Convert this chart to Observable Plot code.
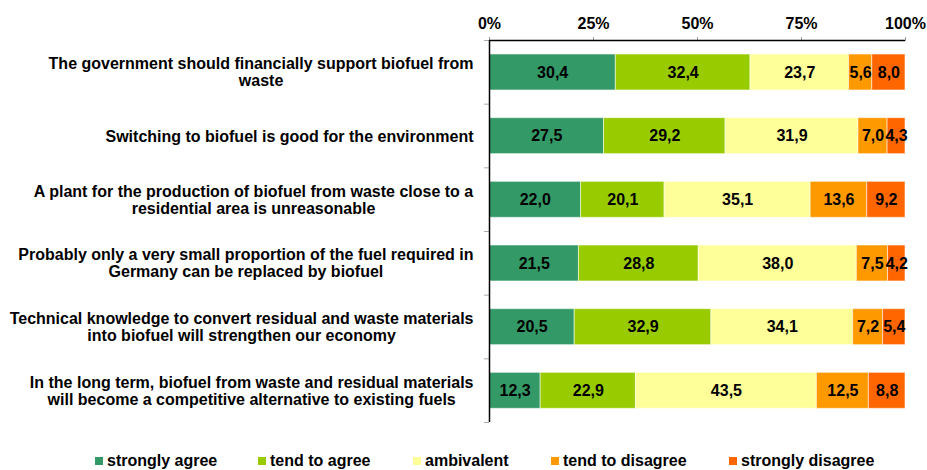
<!DOCTYPE html>
<html>
<head>
<meta charset="utf-8">
<script src="https://cdn.jsdelivr.net/npm/d3@7"></script>
<script src="https://cdn.jsdelivr.net/npm/@observablehq/plot@0.6"></script>
<style>
  html, body { margin: 0; padding: 0; background: #fff; }
  #wrap { width: 927px; font-family: "Liberation Sans", Arial, sans-serif; font-weight: bold; }
  #legend { position: relative; width: 927px; height: 30px; font-size: 16px; color: #000; }
  #legend .item { position: absolute; top: 12px; height: 18px; line-height: 18px; white-space: nowrap; }
  #legend .sw { position: absolute; left: 0; top: 5px; width: 8px; height: 8px; }
  #legend .lab { position: absolute; left: 12px; top: 0; }
</style>
</head>
<body>
<div id="wrap"><div id="chart"></div><div id="legend"></div></div>
<script>
const statements = [
  "The government should financially support biofuel from\nwaste",
  "Switching to biofuel is good for the environment",
  "A plant for the production of biofuel from waste close to a\nresidential area is unreasonable",
  "Probably only a very small proportion of the fuel required in\nGermany can be replaced by biofuel",
  "Technical knowledge to convert residual and waste materials\ninto biofuel will strengthen our economy",
  "In the long term, biofuel from waste and residual materials\nwill become a competitive alternative to existing fuels"
];
const categories = ["strongly agree", "tend to agree", "ambivalent", "tend to disagree", "strongly disagree"];
const stronglyAgree    = [30.4, 27.5, 22.0, 21.5, 20.5, 12.3];
const tendToAgree      = [32.4, 29.2, 20.1, 28.8, 32.9, 22.9];
const ambivalent       = [23.7, 31.9, 35.1, 38.0, 34.1, 43.5];
const tendToDisagree   = [5.6, 7.0, 13.6, 7.5, 7.2, 12.5];
const stronglyDisagree = [8.0, 4.3, 9.2, 4.2, 5.4, 8.8];
const xTicks = [0, 0.25, 0.5, 0.75, 1];
const colors = ["#339966", "#99CC00", "#FFFF99", "#FF9900", "#FF6600"];

const series = [stronglyAgree, tendToAgree, ambivalent, tendToDisagree, stronglyDisagree];

// Build stacked, normalized segments
const rows = [];
statements.forEach((s, i) => {
  const vals = series.map(a => a[i]);
  const total = d3.sum(vals);
  let acc = 0;
  vals.forEach((v, k) => {
    rows.push({row: i, cat: categories[k], value: v, x1: acc / total, x2: (acc + v) / total});
    acc += v;
  });
});

const fmt = v => d3.format(".1f")(v).replace(".", ",");
const font = "'Liberation Sans', Arial, sans-serif";

// measure label widths for centered multi-line blocks right-aligned to the axis
const ctx = document.createElement("canvas").getContext("2d");
ctx.font = "bold 16px 'Liberation Sans'";
const labelMarks = statements.map((s, i) => {
  const w = d3.max(s.split("\n"), l => ctx.measureText(l).width);
  return Plot.text([s], {
    text: d => d,
    frameAnchor: "left",
    y: () => i + 0.5,
    dx: -(16 + w / 2),
    textAnchor: "middle",
    lineHeight: 1.08,
    fontSize: 16,
    fontWeight: "bold",
    fill: "black"
  });
});

const chart = Plot.plot({
  width: 927,
  height: 440,
  marginLeft: 489,
  marginRight: 22,
  marginTop: 40,
  marginBottom: 18,
  style: {fontFamily: font, fontWeight: "bold", background: "white", overflow: "visible"},
  x: {domain: [0, 1]},
  y: {domain: [0, 6], reverse: false, range: [40, 422]},
  color: {domain: categories, range: colors},
  marks: [
    Plot.rect(rows, {
      x1: "x1", x2: "x2",
      y1: d => d.row + 0.22, y2: d => d.row + 0.785,
      fill: "cat",
      stroke: "white", strokeOpacity: 0.55, strokeWidth: 1
    }),
    Plot.text(rows, {
      x: d => (d.x1 + d.x2) / 2,
      y: d => d.row + 0.5025,
      text: d => fmt(d.value),
      fontSize: 16, fontWeight: "bold", fill: "black"
    }),
    Plot.axisX({
      anchor: "top", ticks: xTicks, tickFormat: d3.format(".0%"),
      tickSize: 4, tickPadding: 8, stroke: "#999", fill: "black",
      fontSize: 16, fontWeight: "bold", label: null
    }),
    Plot.axisY({
      anchor: "left", ticks: d3.range(0, 7), tickFormat: () => "",
      tickSize: 5, stroke: "#aaa", label: null
    }),
    Plot.ruleY([0], {x1: 0, x2: 1, stroke: "black", strokeWidth: 1.5}),
    Plot.ruleX([0], {y1: 0, y2: 6, stroke: "black", strokeWidth: 1.5}),
    ...labelMarks
  ]
});
document.getElementById("chart").appendChild(chart);

// legend
const legendX = [95, 258, 413, 551, 729];
const legend = document.getElementById("legend");
categories.forEach((c, k) => {
  const item = document.createElement("div");
  item.className = "item";
  item.style.left = legendX[k] + "px";
  const sw = document.createElement("div");
  sw.className = "sw";
  sw.style.background = colors[k];
  const lab = document.createElement("div");
  lab.className = "lab";
  lab.textContent = c;
  item.appendChild(sw);
  item.appendChild(lab);
  legend.appendChild(item);
});
</script>
</body>
</html>
